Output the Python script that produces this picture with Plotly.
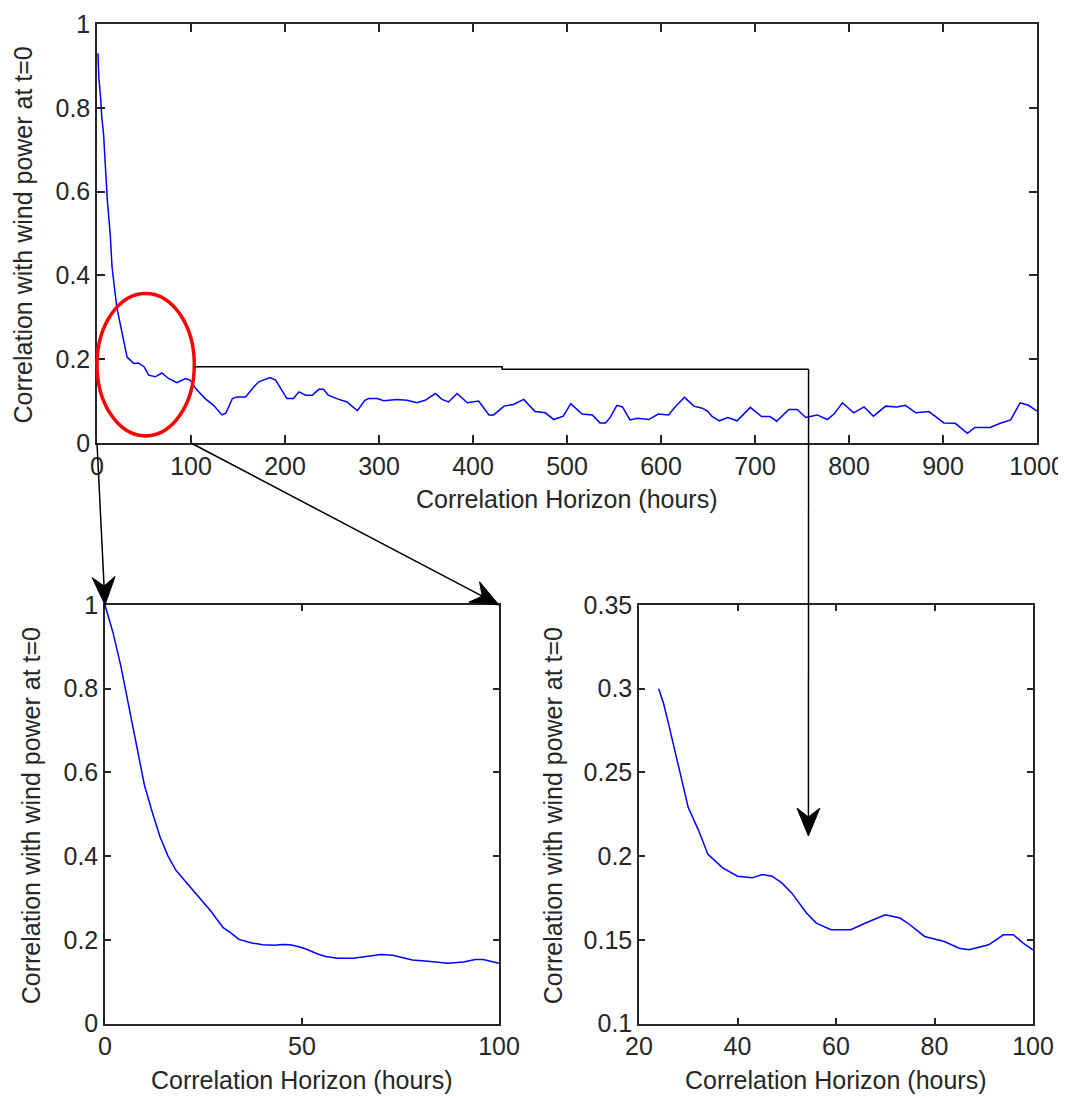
import math
import plotly.graph_objects as go

# The page body has an 8 px margin, so the figure is drawn 8 px in from the window corner.
PAGE_OFFSET = 8
FIG_W, FIG_H = 1066 - PAGE_OFFSET, 1098 - PAGE_OFFSET

# ---------------- data ----------------
overview_hours = [1, 2, 4, 5, 7, 9, 11, 14, 16, 21, 27, 32, 39, 44, 50, 55, 62, 69, 76, 85, 94, 99,
                  105, 115, 124, 133, 137, 144, 149, 158, 167, 172, 184, 190, 202, 209, 215, 222,
                  229, 236, 241, 246, 255, 266, 277, 285, 289, 298, 305, 319, 330, 340, 349, 360,
                  367, 374, 383, 394, 406, 417, 422, 433, 443, 454, 466, 477, 486, 496, 504, 516,
                  527, 535, 541, 546, 553, 559, 567, 575, 587, 597, 608, 615, 625, 635, 644, 650,
                  654, 662, 671, 681, 695, 707, 716, 723, 736, 745, 754, 766, 777, 784, 793, 805,
                  816, 826, 839, 851, 860, 871, 885, 901, 913, 926, 934, 950, 961, 972, 982, 991,
                  1000]
overview_corr = [0.930, 0.870, 0.820, 0.780, 0.737, 0.658, 0.579, 0.500, 0.420, 0.325, 0.261, 0.205,
                 0.190, 0.191, 0.182, 0.162, 0.158, 0.167, 0.154, 0.144, 0.154, 0.150,
                 0.130, 0.106, 0.090, 0.067, 0.071, 0.106, 0.110, 0.110, 0.134, 0.146, 0.156, 0.150,
                 0.106, 0.106, 0.122, 0.114, 0.114, 0.128, 0.128, 0.114, 0.106, 0.098, 0.077, 0.102,
                 0.106, 0.106, 0.101, 0.104, 0.102, 0.096, 0.102, 0.118, 0.104, 0.098, 0.118, 0.096,
                 0.100, 0.067, 0.067, 0.088, 0.092, 0.104, 0.075, 0.072, 0.056, 0.064, 0.094, 0.069,
                 0.067, 0.048, 0.048, 0.061, 0.090, 0.086, 0.055, 0.059, 0.056, 0.069, 0.067, 0.086,
                 0.109, 0.088, 0.083, 0.075, 0.064, 0.053, 0.061, 0.053, 0.085, 0.063, 0.063, 0.052,
                 0.080, 0.080, 0.061, 0.067, 0.056, 0.069, 0.096, 0.072, 0.086, 0.064, 0.088, 0.086,
                 0.090, 0.072, 0.075, 0.048, 0.047, 0.023, 0.037, 0.037, 0.047, 0.055, 0.096, 0.090,
                 0.076]

detail_hours = [0, 2, 4, 6, 8, 10, 12, 14, 16, 18, 20, 22, 24, 25, 26, 27, 28, 30, 32, 34, 37, 40,
                43, 45, 47, 49, 51, 54, 56, 59, 63, 66, 70, 73, 75, 78, 82, 85, 87, 91, 94, 96,
                98, 100]
detail_corr = [1.000, 0.935, 0.855, 0.760, 0.660, 0.570, 0.505, 0.445, 0.400, 0.366, 0.344, 0.322,
               0.300, 0.291, 0.279, 0.267, 0.254, 0.229, 0.216, 0.201, 0.193, 0.188, 0.187, 0.189,
               0.188, 0.184, 0.178, 0.166, 0.160, 0.156, 0.156, 0.160, 0.165, 0.163, 0.159, 0.152,
               0.149, 0.145, 0.144, 0.147, 0.153, 0.153, 0.148, 0.144]
right_panel_first_hour = 24

top_xticks = list(range(0, 1001, 100))
unit_yticks = [0, 0.2, 0.4, 0.6, 0.8, 1]
unit_yticktext = ["0", "0.2", "0.4", "0.6", "0.8", "1"]
left_xticks = [0, 50, 100]
right_xticks = [20, 40, 60, 80, 100]
right_yticks = [0.1, 0.15, 0.2, 0.25, 0.3, 0.35]
right_yticktext = ["0.1", "0.15", "0.2", "0.25", "0.3", "0.35"]

x_title = "Correlation Horizon (hours)"
y_title = "Correlation with wind power at t=0"

# ---------------- layout helpers ----------------
FONT = "Liberation Sans, Arial, sans-serif"
TXT = "#262626"

# panel boxes in window pixels (left, top, right, bottom)
PANELS = {
    "top":   dict(box=(97, 24, 1037, 443),      xr=(0, 1000), yr=(0, 1)),
    "left":  dict(box=(105, 605, 499, 1023.5),  xr=(0, 100),  yr=(0, 1)),
    "right": dict(box=(639, 605, 1033, 1023.5), xr=(20, 100), yr=(0.1, 0.35)),
}


def to_px(panel, x, y):
    p = PANELS[panel]
    l, t, r, b = p["box"]
    (x0, x1), (y0, y1) = p["xr"], p["yr"]
    return l + (x - x0) / (x1 - x0) * (r - l), b - (y - y0) / (y1 - y0) * (b - t)


def px_paper(px, py):
    return (px - PAGE_OFFSET) / FIG_W, 1 - (py - PAGE_OFFSET) / FIG_H


def to_paper(panel, x, y):
    return px_paper(*to_px(panel, x, y))


def domains(panel):
    l, t, r, b = PANELS[panel]["box"]
    x0, y0 = px_paper(l, b)
    x1, y1 = px_paper(r, t)
    return [x0, x1], [y0, y1]


def axis(panel, which, tickvals, ticktext=None, ticklen=6):
    dx, dy = domains(panel)
    d = dict(
        domain=dx if which == "x" else dy,
        range=list(PANELS[panel]["xr"] if which == "x" else PANELS[panel]["yr"]),
        showline=True, linecolor=TXT, linewidth=1.5, mirror="ticks",
        ticks="inside", ticklen=ticklen, tickwidth=1.5, tickcolor=TXT,
        showgrid=False, zeroline=False, tickvals=tickvals, automargin=False,
        tickfont=dict(family=FONT, size=25, color=TXT),
        fixedrange=True,
    )
    if ticktext is not None:
        d["ticktext"] = ticktext
    return d


line_style = dict(color="#0000ff", width=1.5)

right_hours = [h for h in detail_hours if h >= right_panel_first_hour]
right_corr = [c for h, c in zip(detail_hours, detail_corr) if h >= right_panel_first_hour]

fig = go.Figure()
fig.add_trace(go.Scatter(x=overview_hours, y=overview_corr, mode="lines", line=line_style,
                         xaxis="x", yaxis="y", showlegend=False))
fig.add_trace(go.Scatter(x=detail_hours, y=detail_corr, mode="lines", line=line_style,
                         xaxis="x2", yaxis="y2", showlegend=False))
fig.add_trace(go.Scatter(x=right_hours, y=right_corr, mode="lines", line=line_style,
                         xaxis="x3", yaxis="y3", showlegend=False))

annotations = []
# axis titles
for name, ytitle_off in (("top", 74.5), ("left", 74.5), ("right", 86.5)):
    l, t, r, b = PANELS[name]["box"]
    xx, yy = px_paper((l + r) / 2, b + 56)
    annotations.append(dict(text=x_title, x=xx, y=yy, xref="paper", yref="paper",
                            xanchor="center", yanchor="middle", showarrow=False,
                            font=dict(family=FONT, size=25, color=TXT)))
    xx, yy = px_paper(l - ytitle_off, (t + b) / 2 + 1.5)
    annotations.append(dict(text=y_title, x=xx, y=yy, xref="paper", yref="paper",
                            xanchor="center", yanchor="middle", showarrow=False, textangle=-90,
                            font=dict(family=FONT, size=25, color=TXT)))

shapes = []


def pp(px, py):
    x, y = px_paper(px, py)
    return "{:.6f},{:.6f}".format(x, y)


def arrow(tail, tip, head_len=28, head_half=11.5, notch=9):
    tx, ty = to_px(*tail)
    hx, hy = to_px(*tip)
    dx, dy = hx - tx, hy - ty
    n = math.hypot(dx, dy)
    ux, uy = dx / n, dy / n
    vx, vy = -uy, ux
    bx, by = hx - ux * head_len, hy - uy * head_len
    nx, ny = hx - ux * (head_len - notch), hy - uy * (head_len - notch)
    shapes.append(dict(type="path", xref="paper", yref="paper",
                       path="M{} L{}".format(pp(tx, ty), pp(nx, ny)),
                       line=dict(color="#000000", width=1.5), layer="above"))
    head = "M{} L{} L{} L{} Z".format(pp(hx, hy), pp(bx + vx * head_half, by + vy * head_half),
                                      pp(nx, ny), pp(bx - vx * head_half, by - vy * head_half))
    shapes.append(dict(type="path", xref="paper", yref="paper", path=head,
                       fillcolor="#000000", line=dict(color="#000000", width=1), layer="above"))


# red ellipse around the early part of the overview
ex0, ey0 = to_paper("top", 0, 0.017)
ex1, ey1 = to_paper("top", 103.5, 0.357)
shapes.append(dict(type="circle", xref="paper", yref="paper", x0=ex0, y0=ey0, x1=ex1, y1=ey1,
                   line=dict(color="#ff0000", width=3.5), layer="above"))
# connector from the ellipse to the right-hand zoom arrow
p1 = to_px("top", 103.5, 0.182)
p2 = to_px("top", 431, 0.182)
p3 = to_px("top", 431, 0.176)
p4 = to_px("top", 757, 0.176)
shapes.append(dict(type="path", xref="paper", yref="paper",
                   path="M{} L{} L{} L{}".format(pp(*p1), pp(*p2), pp(*p3), pp(*p4)),
                   line=dict(color="#000000", width=1.5), layer="above"))

arrow(("top", 0, 0), ("left", 0, 1))
arrow(("top", 100, 0), ("left", 100, 1))
arrow(("top", 757, 0.176), ("right", 54.4, 0.212))

fig.update_layout(
    width=FIG_W, height=FIG_H,
    margin=dict(l=0, r=0, t=0, b=0, autoexpand=False),
    paper_bgcolor="white", plot_bgcolor="white",
    showlegend=False,
    xaxis=dict(axis("top", "x", top_xticks, ticklen=8), anchor="y"),
    yaxis=dict(axis("top", "y", unit_yticks, unit_yticktext, ticklen=8), anchor="x"),
    xaxis2=dict(axis("left", "x", left_xticks), anchor="y2"),
    yaxis2=dict(axis("left", "y", unit_yticks, unit_yticktext), anchor="x2"),
    xaxis3=dict(axis("right", "x", right_xticks), anchor="y3"),
    yaxis3=dict(axis("right", "y", right_yticks, right_yticktext), anchor="x3"),
    annotations=annotations,
    shapes=shapes,
)

fig.write_html("out.html")
